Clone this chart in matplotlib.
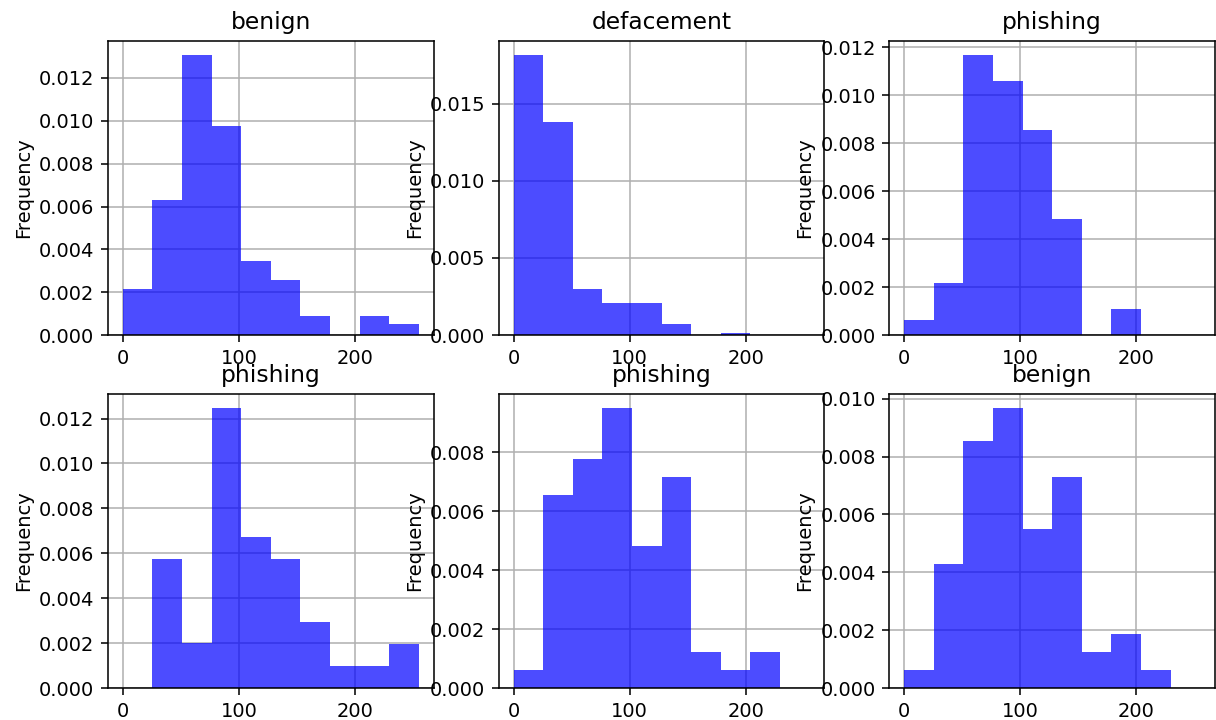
import numpy as np
import matplotlib
matplotlib.use("Agg")
import matplotlib.pyplot as plt

titles = ["benign", "defacement", "phishing", "phishing", "phishing", "benign"]

bin_lo, bin_hi, n_bins = 0, 255, 10

density_benign_1 = [0.00216, 0.00632, 0.01307, 0.00975, 0.00348, 0.00255, 0.000885, 0.0, 0.000885, 0.000497]
density_deface_2 = [0.01815, 0.01379, 0.00302, 0.00211, 0.00211, 0.00069, 0.0, 0.00017, 0.0, 0.0]
density_phish_3 = [0.00061, 0.00218, 0.01168, 0.01060, 0.00854, 0.00483, 0.0, 0.00111, 0.0, 0.0]
density_phish_4 = [0.0, 0.00576, 0.00202, 0.01247, 0.00674, 0.00576, 0.00294, 0.000995, 0.000995, 0.00197]
density_phish_5 = [0.000622, 0.00655, 0.00776, 0.00950, 0.00481, 0.00715, 0.00122, 0.000622, 0.00122, 0.0]
density_benign_6 = [0.000634, 0.00427, 0.00853, 0.00968, 0.00551, 0.00728, 0.00124, 0.00187, 0.000634, 0.0]

series = [density_benign_1, density_deface_2, density_phish_3,
          density_phish_4, density_phish_5, density_benign_6]

dpi = 140
fig, axes = plt.subplots(2, 3, figsize=(1216 / dpi, 720 / dpi), dpi=dpi)
fig.subplots_adjust(left=0.0888, right=0.9992, bottom=0.0444, top=0.943,
                    wspace=0.2, hspace=0.2)

edges = np.linspace(bin_lo, bin_hi, n_bins + 1)
centers = (edges[:-1] + edges[1:]) / 2

for ax, title, vals in zip(axes.flat, titles, series):
    ax.hist(centers, bins=edges, weights=vals, color="blue", alpha=0.7)
    ax.set_title(title)
    ax.set_ylabel("Frequency", labelpad=3)
    ax.grid(True)
    ax.set_axisbelow(True)

fig.savefig("out.png", dpi=dpi)
